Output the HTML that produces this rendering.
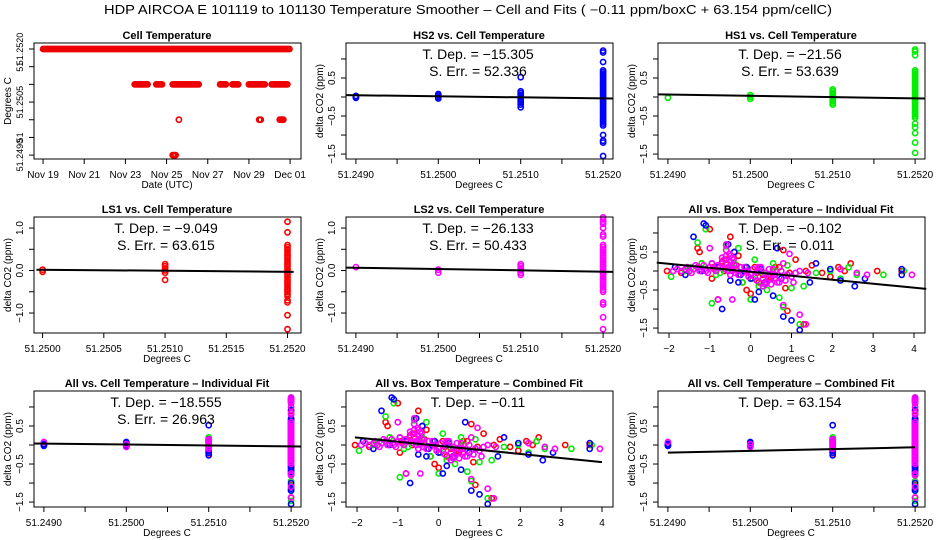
<!DOCTYPE html>
<html><head><meta charset="utf-8"><style>
html,body{margin:0;padding:0;background:#fff}
svg{display:block;font-family:"Liberation Sans",sans-serif}
</style></head><body>
<svg id="c" width="936" height="540" viewBox="0 0 936 540">
<rect width="936" height="540" fill="#fff"/>
<text x="468" y="14" text-anchor="middle" font-size="12.5" textLength="728" lengthAdjust="spacingAndGlyphs">HDP   AIRCOA E   101119 to 101130   Temperature Smoother – Cell and Fits ( −0.11  ppm/boxC +  63.154  ppm/cellC)</text>
</svg>
<script>
// ---- Cell temperature time series (days since Nov 19) ----
const cellSegStart = [0.0, 4.45, 5.5, 6.3, 8.6, 9.2, 10.0, 11.1, 6.6, 10.5, 11.5, 11.6, 6.3];
const cellSegEnd   = [12.0, 5.1, 5.8, 7.6, 8.9, 9.5, 10.8, 11.9, 6.6, 10.6, 11.6, 11.7, 6.5];
const cellSegLevel = [51.2520, 51.2510, 51.2510, 51.2510, 51.2510, 51.2510, 51.2510, 51.2510, 51.2500, 51.2500, 51.2500, 51.2500, 51.2490];
const dateTicks = [0, 2, 4, 6, 8, 10, 12];
const dateLabels = ["Nov 19", "Nov 21", "Nov 23", "Nov 25", "Nov 27", "Nov 29", "Dec 01"];

// ---- per-instrument vs cell temperature ----
const hs2Levels = [51.2490, 51.2500, 51.2510, 51.2520];
const hs2Vals = [
  [0.03, 0.0, -0.02],
  [0.08, 0.04, 0.0, -0.04],
  [0.52, 0.15, 0.1, 0.05, 0.0, -0.05, -0.1, -0.15, -0.2, -0.27],
  [1.22, 1.17, 0.92, 0.7, 0.65, 0.6, 0.55, 0.5, 0.45, 0.4, 0.35, 0.3, 0.25, 0.2, 0.15, 0.1, 0.05, 0.0, -0.05, -0.1, -0.15, -0.2, -0.25, -0.3, -0.35, -0.4, -0.45, -0.5, -0.55, -0.6, -0.65, -0.7, -0.75, -1.0, -1.15, -1.2, -1.55]
];
const hs1Levels = [51.2490, 51.2500, 51.2510, 51.2520];
const hs1Vals = [
  [-0.02],
  [0.05, 0.0, -0.05],
  [0.2, 0.15, 0.1, 0.05, 0.0, -0.05, -0.1, -0.15, -0.2],
  [1.25, 1.2, 1.1, 0.7, 0.65, 0.6, 0.55, 0.5, 0.45, 0.4, 0.35, 0.3, 0.25, 0.2, 0.15, 0.1, 0.05, 0.0, -0.05, -0.1, -0.15, -0.2, -0.25, -0.3, -0.35, -0.4, -0.45, -0.5, -0.55, -0.7, -0.8, -0.95, -1.2, -1.47]
];
const ls1Levels = [51.2500, 51.2510, 51.2520];
const ls1Vals = [
  [0.02, -0.03],
  [0.15, 0.1, 0.05, 0.0, -0.05, -0.22],
  [1.15, 0.9, 0.6, 0.55, 0.5, 0.45, 0.4, 0.35, 0.3, 0.25, 0.2, 0.15, 0.1, 0.05, 0.0, -0.05, -0.1, -0.15, -0.2, -0.25, -0.3, -0.35, -0.4, -0.45, -0.5, -0.55, -0.6, -0.7, -0.75, -1.05, -1.38]
];
const ls2Levels = [51.2490, 51.2500, 51.2510, 51.2520];
const ls2Vals = [
  [0.08],
  [0.02, -0.05],
  [0.15, 0.1, 0.05, 0.0, -0.05, -0.1],
  [1.25, 1.2, 1.15, 1.1, 1.0, 0.85, 0.8, 0.6, 0.55, 0.5, 0.45, 0.4, 0.35, 0.3, 0.25, 0.2, 0.15, 0.1, 0.05, 0.0, -0.05, -0.1, -0.15, -0.2, -0.25, -0.3, -0.35, -0.4, -0.45, -0.5, -0.75, -0.8, -1.1, -1.38]
];

// ---- all vs box temperature ----
const redBoxX = [-2.05,-1.7,-1.3,-1.25,-1.2,-1.0,-0.95,-0.8,-0.7,-0.6,-0.5,-0.45,-0.4,-0.3,-0.2,-0.15,-0.1,0.0,0.1,0.2,0.3,0.5,0.6,0.8,0.85,0.9,0.95,1.1,1.3,1.35,1.5,1.75,1.95,2.15,2.3,2.45,3.1,3.7,-0.9,-0.65,-0.35,0.15,0.45,0.7];
const redBoxY = [0.0,-0.05,0.6,0.5,0.2,1.1,-0.2,-0.75,0.25,0.3,0.9,0.05,0.5,0.4,-0.3,0.0,-0.5,-0.6,0.1,-0.3,-0.1,-0.2,0.1,0.55,-0.45,-1.05,-0.05,0.3,-1.4,0.0,0.15,-0.05,-0.15,0.1,0.0,0.2,0.0,0.0,0.1,0.0,0.15,-0.05,-0.15,0.1];
const greenBoxX = [-1.95,-1.6,-1.3,-1.2,-1.1,-0.95,-0.85,-0.6,-0.5,-0.3,-0.2,-0.1,0.0,0.1,0.2,0.3,0.4,0.55,0.7,0.8,0.9,1.0,1.2,1.3,1.6,1.95,2.2,2.4,2.6,3.25,3.75,-1.45,-0.75,-0.4,0.05,0.6];
const greenBoxY = [-0.15,0.0,0.75,0.2,1.1,-0.85,-0.1,0.65,0.05,0.6,-0.3,0.1,-0.75,0.3,-0.4,-0.05,-0.5,0.2,-0.7,-0.95,0.15,-0.45,-1.4,-0.4,-0.05,0.0,-0.2,0.1,-0.1,-0.1,0.0,0.1,-0.05,0.2,-0.2,0.0];
const blueBoxX = [-1.85,-1.6,-1.4,-1.15,-1.1,-0.95,-0.7,-0.55,-0.5,-0.4,-0.3,-0.1,0.0,0.1,0.2,0.35,0.55,0.65,0.8,0.9,1.0,1.2,1.45,1.6,1.95,2.2,2.55,2.8,3.7,3.7,-1.2,-0.8,-0.25,0.25,0.75];
const blueBoxY = [0.1,-0.1,0.9,1.25,1.2,0.2,-1.0,0.7,-0.25,0.5,-0.3,0.1,-0.2,-0.75,-0.55,-0.3,-0.65,0.6,-1.2,-0.1,-1.3,-1.55,-0.3,0.2,0.05,-0.25,-0.4,-0.2,0.05,-0.1,0.0,0.1,-0.1,0.05,-0.2];
const magBoxX = [-1.9,-1.8,-1.7,-1.6,-1.5,-1.4,-1.3,-1.2,-1.1,-1.0,-0.9,-0.8,-0.7,-0.65,-0.6,-0.55,-0.5,-0.45,-0.4,-0.35,-0.3,-0.2,-0.1,0.0,0.1,0.2,0.3,0.4,0.5,0.6,0.7,0.8,0.9,1.0,1.1,1.2,1.4,-0.8,-0.45,-1.0,1.2,1.35,0.95,2.2,2.6,2.85,3.95,-0.6,-0.5,0.3,0.5,0.8,
  -1.55,-1.45,-1.35,-1.25,-1.15,-1.05,-0.95,-0.85,-0.75,-0.7,-0.62,-0.58,-0.52,-0.48,-0.42,-0.38,-0.25,-0.15,-0.05,0.05,0.15,0.25,0.35,0.45,0.55,0.65,0.75,0.85,1.05,-0.6,-0.55,-0.5,-0.45,0.2,0.35,0.45,0.6,0.7];
const magBoxY = [0.0,0.05,0.0,0.05,0.0,0.05,0.1,0.05,0.0,0.1,0.05,0.15,0.2,0.3,0.4,0.1,0.25,0.0,0.15,0.05,-0.1,-0.05,0.0,-0.1,-0.15,0.0,-0.2,-0.3,-0.1,-0.2,-0.15,0.2,-0.1,-0.15,-0.05,0.0,-0.05,-0.75,-0.75,0.6,-1.15,-1.4,0.45,0.05,-0.05,-0.1,-0.1,0.7,0.4,-0.4,-0.35,-0.9,
  0.1,-0.05,0.15,0.0,0.15,-0.05,0.2,0.0,0.1,0.35,0.05,0.2,0.45,0.15,0.3,-0.05,0.1,0.1,-0.15,0.05,-0.25,0.1,-0.05,-0.2,0.05,-0.3,0.0,-0.25,-0.3,0.55,0.0,-0.1,0.35,0.1,-0.35,0.05,-0.1,-0.3];

// ---- fit lines [x0, y0, x1, y1] ----
const fitHS2 = [51.24888, 0.05, 51.25212, -0.04];
const fitHS1 = [51.24888, 0.07, 51.25212, -0.04];
const fitLS1 = [51.24995, 0.02, 51.25205, -0.03];
const fitLS2 = [51.24888, 0.07, 51.25212, -0.03];
const fitBoxInd = [-2.3, 0.22, 4.3, -0.47];
const fitCellInd = [51.24888, 0.04, 51.25212, -0.04];
const fitBoxComb = [-2.05, 0.2, 4.0, -0.45];
const fitCellComb = [51.2490, -0.2, 51.2520, -0.06];

const NS = "http://www.w3.org/2000/svg";
const svg = document.getElementById('c');
function el(tag, attrs, parent) {
  const e = document.createElementNS(NS, tag);
  for (const k in attrs) e.setAttribute(k, attrs[k]);
  (parent || svg).appendChild(e);
  return e;
}
const colX = [0, 312, 624];
const rowTop = [43, 217, 391];
const BH = 116;

const stdY = { dom: [1.42, -1.63], ticks: [1.0, 0.5, 0.0, -0.5, -1.0, -1.5], labels: ["", "0.5", "", "−0.5", "", "−1.5"] };
const lsY = { dom: [1.26, -1.47], ticks: [1.0, 0.5, 0.0, -0.5, -1.0], labels: ["1.0", "", "0.0", "", "−1.0"] };
const cellX = { dom: [51.24888, 51.25212], ticks: [51.2490, 51.2495, 51.2500, 51.2505, 51.2510, 51.2515, 51.2520], labels: ["51.2490", "", "51.2500", "", "51.2510", "", "51.2520"] };
const boxX = { dom: [-2.27, 4.27], ticks: [-2, -1, 0, 1, 2, 3, 4], labels: ["−2", "−1", "0", "1", "2", "3", "4"] };

function panel(cfg) {
  const px = colX[cfg.col], top = rowTop[cfg.row];
  const x0 = px + 34, x1 = px + 301, y0 = top, y1 = top + BH;
  const g = el('g', {});
  
  
  const sx = v => x0 + (v - cfg.x.dom[0]) / (cfg.x.dom[1] - cfg.x.dom[0]) * (x1 - x0);
  const sy = v => y0 + (v - cfg.y.dom[0]) / (cfg.y.dom[1] - cfg.y.dom[0]) * (y1 - y0);
  const t = el('text', { x: px + 167, y: top - 4, 'text-anchor': 'middle', 'font-size': 11, 'font-weight': 'bold' }, g);
  t.textContent = cfg.title;
  
  
  cfg.series.forEach(s => {
    const sg = el('g', { fill: 'none', stroke: s.color, 'stroke-width': 1.6 }, g);
    
    
    const n = Math.min(s.xs.length, s.ys.length);
    for (let i = 0; i < n; i++) {
      const c = el('circle', { cx: sx(s.xs[i]).toFixed(1), cy: sy(s.ys[i]).toFixed(1), r: 2.6 }, sg);
      
      
    }
  });
  if (cfg.fit) {
    const f = cfg.fit;
    const l = el('line', { x1: sx(f[0]), y1: sy(f[1]), x2: sx(f[2]), y2: sy(f[3]), stroke: '#000', 'stroke-width': 2 }, g);
    
    
  }
  const box = el('rect', { x: x0, y: y0, width: x1 - x0, height: y1 - y0, fill: 'none', stroke: '#000', 'stroke-width': 1 }, g);
  
  
  const xt = cfg.x.ticks;
  el('line', { x1: sx(xt[0]), x2: sx(xt[xt.length - 1]), y1: y1, y2: y1, stroke: '#000' }, g);
  xt.forEach((v, i) => {
    el('line', { x1: sx(v), x2: sx(v), y1: y1, y2: y1 + 5, stroke: '#000' }, g);
    if (cfg.x.labels[i]) {
      const tl = el('text', { x: sx(v), y: y1 + 19, 'text-anchor': 'middle', 'font-size': 10 }, g);
      tl.textContent = cfg.x.labels[i];
      
      
    }
  });
  const xl = el('text', { x: px + 167, y: y1 + 29, 'text-anchor': 'middle', 'font-size': 10 }, g);
  xl.textContent = cfg.xTitle;
  
  
  const yt = cfg.y.ticks;
  const yfs = cfg.yFont || 10;
  el('line', { x1: x0, x2: x0, y1: sy(yt[0]), y2: sy(yt[yt.length - 1]), stroke: '#000' }, g);
  yt.forEach((v, i) => {
    el('line', { x1: x0 - 5, x2: x0, y1: sy(v), y2: sy(v), stroke: '#000' }, g);
    if (cfg.y.labels[i]) {
      const yy = sy(v), xx = px + 23;
      const tl = el('text', { x: xx, y: yy, 'text-anchor': 'middle', 'font-size': yfs, transform: `rotate(-90 ${xx} ${yy})` }, g);
      tl.textContent = cfg.y.labels[i];
      
      
    }
  });
  const yc = (y0 + y1) / 2, yx = px + 11;
  const yl = el('text', { x: yx, y: yc, 'text-anchor': 'middle', 'font-size': 10, transform: `rotate(-90 ${yx} ${yc})` }, g);
  yl.textContent = cfg.yTitle;
  
  
  (cfg.annot || []).forEach((a, i) => {
    const at = el('text', { x: px + 166, y: top + 16 + i * 17, 'text-anchor': 'middle', 'font-size': 14 }, g);
    at.textContent = a;
    
    
  });
  return { sx, sy, g };
}

function flatten(levels, vals) {
  const xs = [], ys = [];
  levels.forEach((lv, i) => vals[i].forEach(v => { xs.push(lv); ys.push(v); }));
  return { xs, ys };
}
const hs2 = flatten(hs2Levels, hs2Vals), hs1 = flatten(hs1Levels, hs1Vals);
const ls1 = flatten(ls1Levels, ls1Vals), ls2 = flatten(ls2Levels, ls2Vals);

(function () {
  const cellSeriesX = [], cellSeriesY = [];
  cellSegStart.forEach((s, i) => {
    for (let d = s; d <= cellSegEnd[i] + 1e-9; d += 0.07) { cellSeriesX.push(d); cellSeriesY.push(cellSegLevel[i]); }
  });
  panel({
    name: 'cell-temperature-panel', col: 0, row: 0, title: 'Cell Temperature', yFont: 9,
    x: { dom: [-0.44, 12.53], ticks: dateTicks, labels: dateLabels },
    y: { dom: [51.25217, 51.24889], ticks: [51.2520, 51.2515, 51.2510, 51.2505, 51.2500, 51.2495, 51.2490], labels: ["51.2520", "51", "", "51.2505", "", "51", "51.2490"] },
    xTitle: 'Date (UTC)', yTitle: 'Degrees C',
    series: [{ name: 'cell-temperature-points', color: '#ee0000', xs: cellSeriesX, ys: cellSeriesY }]
  });
})();

panel({ name: 'hs2-panel', col: 1, row: 0, title: 'HS2 vs. Cell Temperature', x: cellX, y: stdY,
  xTitle: 'Degrees C', yTitle: 'delta CO2 (ppm)', annot: ['T. Dep. =  −15.305', 'S. Err. =  52.336'],
  series: [{ name: 'hs2-points', color: '#0000ff', xs: hs2.xs, ys: hs2.ys }], fit: fitHS2 });
panel({ name: 'hs1-panel', col: 2, row: 0, title: 'HS1 vs. Cell Temperature', x: cellX, y: stdY,
  xTitle: 'Degrees C', yTitle: 'delta CO2 (ppm)', annot: ['T. Dep. =  −21.56', 'S. Err. =  53.639'],
  series: [{ name: 'hs1-points', color: '#00ee00', xs: hs1.xs, ys: hs1.ys }], fit: fitHS1 });
panel({ name: 'ls1-panel', col: 0, row: 1, title: 'LS1 vs. Cell Temperature',
  x: { dom: [51.24993, 51.25211], ticks: [51.2500, 51.2505, 51.2510, 51.2515, 51.2520], labels: ["51.2500", "51.2505", "51.2510", "51.2515", "51.2520"] },
  y: lsY, xTitle: 'Degrees C', yTitle: 'delta CO2 (ppm)', annot: ['T. Dep. =  −9.049', 'S. Err. =  63.615'],
  series: [{ name: 'ls1-points', color: '#ff0000', xs: ls1.xs, ys: ls1.ys }], fit: fitLS1 });
panel({ name: 'ls2-panel', col: 1, row: 1, title: 'LS2 vs. Cell Temperature', x: cellX, y: lsY,
  xTitle: 'Degrees C', yTitle: 'delta CO2 (ppm)', annot: ['T. Dep. =  −26.133', 'S. Err. =  50.433'],
  series: [{ name: 'ls2-points', color: '#ff00ff', xs: ls2.xs, ys: ls2.ys }], fit: fitLS2 });

const boxSeries = [
  { name: 'ls1-box-points', color: '#ff0000', xs: redBoxX, ys: redBoxY },
  { name: 'hs1-box-points', color: '#00ee00', xs: greenBoxX, ys: greenBoxY },
  { name: 'hs2-box-points', color: '#0000ff', xs: blueBoxX, ys: blueBoxY },
  { name: 'ls2-box-points', color: '#ff00ff', xs: magBoxX, ys: magBoxY }
];
const cellSeries = [
  { name: 'ls1-cell-points', color: '#ff0000', xs: ls1.xs, ys: ls1.ys },
  { name: 'hs1-cell-points', color: '#00ee00', xs: hs1.xs, ys: hs1.ys },
  { name: 'hs2-cell-points', color: '#0000ff', xs: hs2.xs, ys: hs2.ys },
  { name: 'ls2-cell-points', color: '#ff00ff', xs: ls2.xs, ys: ls2.ys }
];
panel({ name: 'all-box-individual-panel', col: 2, row: 1, title: 'All vs. Box Temperature – Individual Fit', x: boxX, y: stdY,
  xTitle: 'Degrees C', yTitle: 'delta CO2 (ppm)', annot: ['T. Dep. =  −0.102', 'S. Err. =  0.011'],
  series: boxSeries, fit: fitBoxInd });
panel({ name: 'all-cell-individual-panel', col: 0, row: 2, title: 'All vs. Cell Temperature – Individual Fit', x: cellX, y: stdY,
  xTitle: 'Degrees C', yTitle: 'delta CO2 (ppm)', annot: ['T. Dep. =  −18.555', 'S. Err. =  26.963'],
  series: cellSeries, fit: fitCellInd });
panel({ name: 'all-box-combined-panel', col: 1, row: 2, title: 'All vs. Box Temperature – Combined Fit', x: boxX, y: stdY,
  xTitle: 'Degrees C', yTitle: 'delta CO2 (ppm)', annot: ['T. Dep. =  −0.11'],
  series: boxSeries, fit: fitBoxComb });
panel({ name: 'all-cell-combined-panel', col: 2, row: 2, title: 'All vs. Cell Temperature – Combined Fit', x: cellX, y: stdY,
  xTitle: 'Degrees C', yTitle: 'delta CO2 (ppm)', annot: ['T. Dep. =  63.154'],
  series: cellSeries, fit: fitCellComb });
</script>
</body></html>
